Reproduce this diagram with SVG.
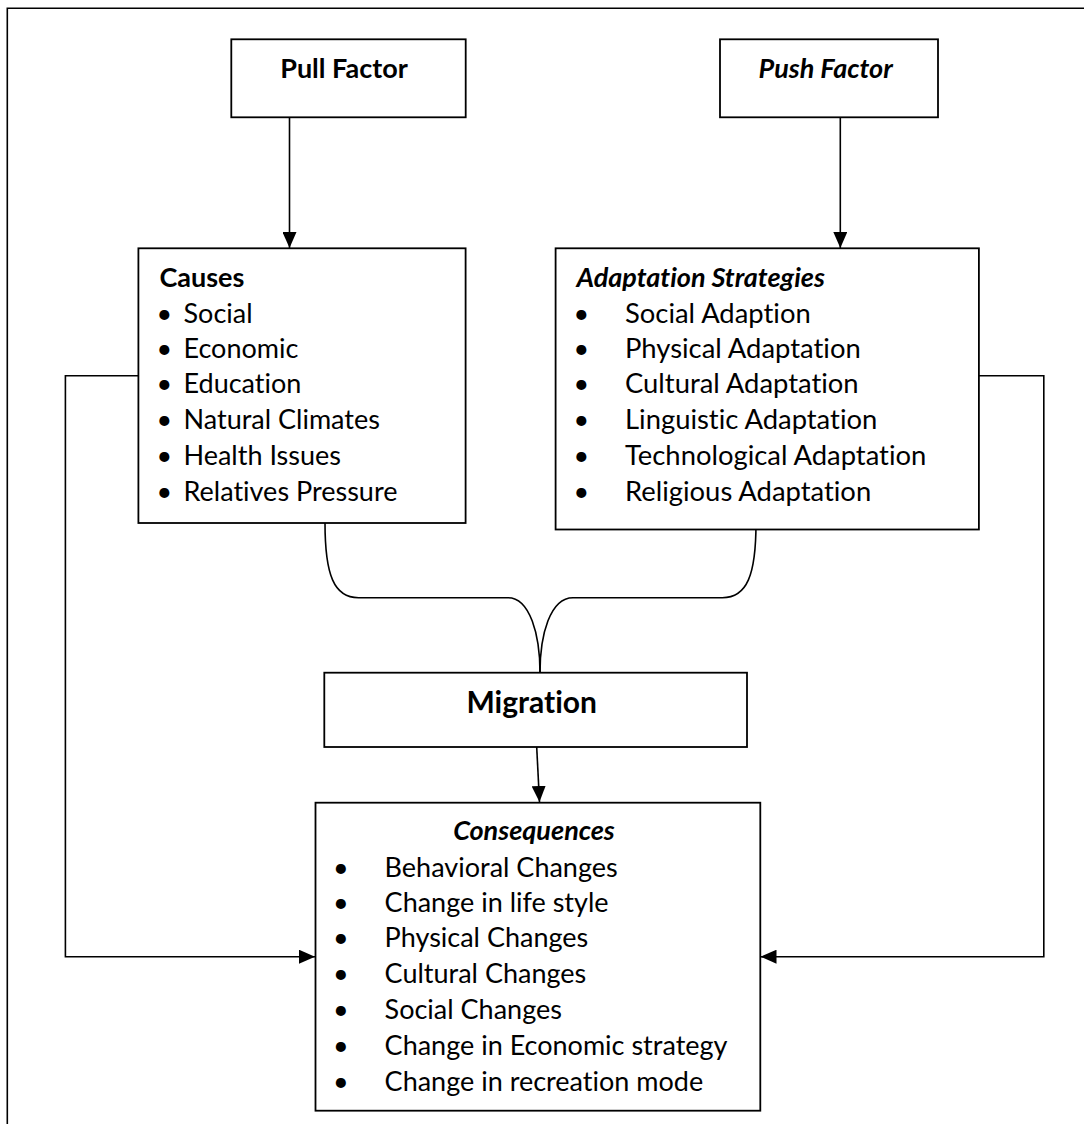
<svg xmlns="http://www.w3.org/2000/svg" width="1084" height="1124" viewBox="0 0 1084 1124">
<defs>
<style>
.box{fill:#fff;stroke:#000;stroke-width:1.8}
.ln{fill:none;stroke:#000;stroke-width:1.6}
text{font-family:Lato,"Open Sans","Liberation Sans",sans-serif;fill:#000;font-size:27px;font-variant-ligatures:none}
.b{font-weight:bold}
.bi{font-weight:bold;font-style:italic}
.c{text-anchor:middle}
.t{font-size:27.4px}
</style>
<marker id="ah" markerUnits="userSpaceOnUse" markerWidth="16" markerHeight="14" refX="16" refY="7" orient="auto">
<path d="M0,0 L16,7 L0,14 z" fill="#000"/>
</marker>
</defs>
<rect width="1084" height="1124" fill="#fff"/>
<g id="frame"><path class="ln" d="M7.3,1124 V8.3 H1084"/></g>

<g id="connectors">
<path class="ln" d="M289.5,117.3 V248" marker-end="url(#ah)"/>
<path class="ln" d="M840.3,115 V248" marker-end="url(#ah)"/>
<path class="ln" d="M138.4,375.7 H65.4 V956.7 H315" marker-end="url(#ah)"/>
<path class="ln" d="M978.9,375.7 H1043.8 V956.7 H760.5" marker-end="url(#ah)"/>
<path class="ln" d="M325,523 C325,575 334,597.7 358.5,597.7 H508 C530,597.7 540,635 540,672.7"/>
<path class="ln" d="M756,523 C756,575 747,597.7 722.3,597.7 H573 C550,597.7 540,635 540,672.7"/>
<path class="ln" d="M536.7,747 L539.5,802" marker-end="url(#ah)"/>
</g>

<g id="pull">
<rect class="box" x="231.3" y="39.3" width="234.4" height="78"/>
<text class="b c" x="344" y="78.3">Pull Factor</text>
</g>
<g id="push">
<rect class="box" x="720" y="39.3" width="218" height="78"/>
<text class="bi c" x="825.7" y="78.3">Push Factor</text>
</g>
<g id="causes">
<rect class="box" x="138.4" y="248.3" width="327.2" height="274.7"/>
<text class="b" x="159.4" y="286.7">Causes</text>
<text x="156.5" y="322.7">•</text><text x="183.5" y="322.7">Social</text>
<text x="156.5" y="358.3">•</text><text x="183.5" y="358.3">Economic</text>
<text x="156.5" y="393.3">•</text><text x="183.5" y="393.3">Education</text>
<text x="156.5" y="429.3">•</text><text x="183.5" y="429.3">Natural Climates</text>
<text x="156.5" y="465">•</text><text x="183.5" y="465">Health Issues</text>
<text x="156.5" y="501">•</text><text x="183.5" y="501">Relatives Pressure</text>
</g>
<g id="adaptation">
<rect class="box" x="555.6" y="248.3" width="423.3" height="281.2"/>
<text class="bi" x="576.4" y="286.7">Adaptation Strategies</text>
<text x="573.5" y="322.7">•</text><text class="t" x="625" y="322.7">Social Adaption</text>
<text x="573.5" y="358.3">•</text><text class="t" x="625" y="358.3">Physical Adaptation</text>
<text x="573.5" y="393.3">•</text><text class="t" x="625" y="393.3">Cultural Adaptation</text>
<text x="573.5" y="429.3">•</text><text class="t" x="625" y="429.3">Linguistic Adaptation</text>
<text x="573.5" y="465">•</text><text class="t" x="625" y="465">Technological Adaptation</text>
<text x="573.5" y="501">•</text><text class="t" x="625" y="501">Religious Adaptation</text>
</g>
<g id="migration">
<rect class="box" x="324.3" y="672.7" width="422.7" height="74.3"/>
<text class="b c" x="531.7" y="713.3" style="font-size:30px">Migration</text>
</g>
<g id="consequences">
<rect class="box" x="315.5" y="802.7" width="444.8" height="308"/>
<text class="bi c" x="534" y="840">Consequences</text>
<text x="333" y="876.7">•</text><text x="384.6" y="876.7">Behavioral Changes</text>
<text x="333" y="911.7">•</text><text x="384.6" y="911.7">Change in life style</text>
<text x="333" y="947.3">•</text><text x="384.6" y="947.3">Physical Changes</text>
<text x="333" y="983.3">•</text><text x="384.6" y="983.3">Cultural Changes</text>
<text x="333" y="1019">•</text><text x="384.6" y="1019">Social Changes</text>
<text x="333" y="1055">•</text><text x="384.6" y="1055">Change in Economic strategy</text>
<text x="333" y="1090.7">•</text><text x="384.6" y="1090.7">Change in recreation mode</text>
</g>
</svg>
